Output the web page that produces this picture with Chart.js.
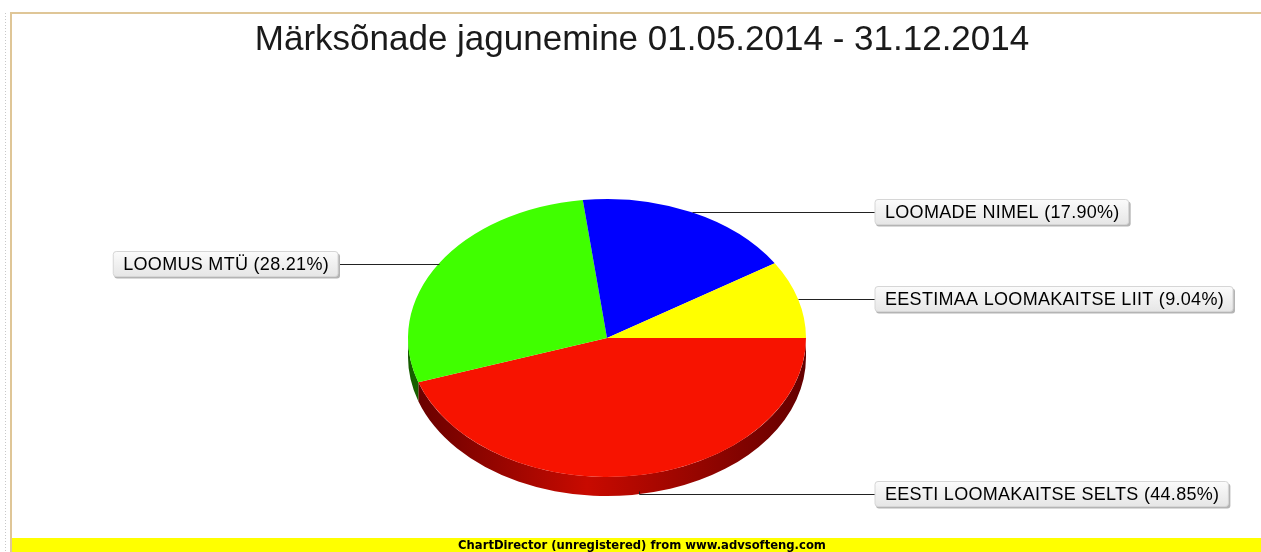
<!DOCTYPE html>
<html>
<head>
<meta charset="utf-8">
<script src="https://cdn.jsdelivr.net/npm/chart.js@4.4.1/dist/chart.umd.min.js"></script>
<style>
  html, body { margin: 0; padding: 0; background: #fff; }
  #wrap { width: 1261px; height: 552px; position: relative; }
</style>
</head>
<body>
<div id="wrap"><canvas id="chart" width="1261" height="552"></canvas></div>
<script>
// data, in the order drawn clockwise from 3 o'clock
const categories = ['EESTI LOOMAKAITSE SELTS', 'LOOMUS MTÜ', 'LOOMADE NIMEL', 'EESTIMAA LOOMAKAITSE LIIT'];
const shares = [44.85, 28.21, 17.90, 9.04];
const topColors = ['#f71300', '#40ff00', '#0000ff', '#ffff00'];
const sideDark = ['#640000', '#155c00', '#000070', '#707000'];
const sideLight = ['#c80a00', '#30c000', '#0000c0', '#c0c000'];

const titleText = 'Märksõnade jagunemine 01.05.2014 - 31.12.2014';
const footerText = 'ChartDirector (unregistered) from www.advsofteng.com';

const tilt = 139 / 199;
const depth = 19;
const rightColX = 875;
const leftColX = 338;

const ctx = document.getElementById('chart').getContext('2d');

// frame, title and footer bar
const framePlugin = {
    id: 'frame',
    beforeDraw(chart) {
        const c = chart.ctx;
        c.save();
        c.fillStyle = '#fff';
        c.fillRect(0, 0, chart.width, chart.height);
        // dotted page edge
        c.strokeStyle = '#c8c8c8';
        c.lineWidth = 1;
        c.setLineDash([1, 2]);
        c.beginPath();
        c.moveTo(5.5, 13);
        c.lineTo(5.5, chart.height);
        c.stroke();
        c.setLineDash([]);
        // tan border
        c.strokeStyle = '#dfc697';
        c.lineWidth = 2;
        c.beginPath();
        c.moveTo(11, chart.height);
        c.lineTo(11, 13);
        c.lineTo(chart.width, 13);
        c.stroke();
        // title
        c.fillStyle = '#1a1a1a';
        c.font = '35px "Liberation Sans", Arial, sans-serif';
        c.textAlign = 'center';
        c.textBaseline = 'middle';
        c.fillText(titleText, 642, 40);
        // footer bar
        c.fillStyle = '#ffff00';
        c.fillRect(12, 538, chart.width - 12, 14);
        c.fillStyle = '#000';
        c.font = 'bold 11.6px "DejaVu Sans", sans-serif';
        c.fillText(footerText, 642, 546);
        c.restore();
    }
};

// squash the pie into an ellipse and add the side walls
const pie3dPlugin = {
    id: 'pie3d',
    beforeDatasetsDraw(chart) {
        const c = chart.ctx;
        const arcs = chart.getDatasetMeta(0).data;
        const cx = arcs[0].x, cy = arcs[0].y, r = arcs[0].outerRadius;
        const ry = r * tilt;
        c.save();
        arcs.forEach((arc, i) => {
            const a = Math.max(arc.startAngle, 0);
            const b = Math.min(arc.endAngle, Math.PI);
            if (b <= a) return;
            const g = c.createLinearGradient(cx - r, 0, cx + r, 0);
            g.addColorStop(0, sideDark[i]);
            g.addColorStop(0.45, sideLight[i]);
            g.addColorStop(1, sideDark[i]);
            c.fillStyle = g;
            c.beginPath();
            c.ellipse(cx, cy, r, ry, 0, a, b);
            c.ellipse(cx, cy + depth, r, ry, 0, b, a, true);
            c.closePath();
            c.fill();
        });
        c.restore();
        c.save();
        c.translate(0, cy);
        c.scale(1, tilt);
        c.translate(0, -cy);
    },
    afterDatasetsDraw(chart) {
        chart.ctx.restore();
    }
};

// boxed side labels with leader lines
const labelPlugin = {
    id: 'boxLabels',
    afterDraw(chart) {
        const c = chart.ctx;
        const arcs = chart.getDatasetMeta(0).data;
        const cx = arcs[0].x, cy = arcs[0].y, r = arcs[0].outerRadius;
        const ry = r * tilt;
        c.save();
        c.font = '18px "Liberation Sans", Arial, sans-serif';
        c.letterSpacing = '0.3px';
        c.textBaseline = 'middle';
        arcs.forEach((arc, i) => {
            const m = (arc.startAngle + arc.endAngle) / 2;
            const ax = cx + r * Math.cos(m);
            let ay = cy + ry * Math.sin(m);
            const front = Math.sin(m) > 0.5;
            if (front) ay += depth - 3;
            const text = categories[i] + ' (' + shares[i].toFixed(2) + '%)';
            const tw = c.measureText(text).width;
            const bw = tw + 19, bh = 25;
            const right = Math.cos(m) >= 0;
            const ly = front ? ay + 3 : ay;
            const bx = right ? rightColX : leftColX - bw;
            const by = Math.round(ly) - 12.5;
            // leader line
            c.strokeStyle = '#222';
            c.lineWidth = 1;
            c.beginPath();
            c.moveTo(Math.round(ax) + 0.5, Math.round(ay) + 0.5);
            if (front) c.lineTo(Math.round(ax) + 0.5, Math.round(ly) + 0.5);
            c.lineTo(right ? bx : bx + bw, Math.round(ly) + 0.5);
            c.stroke();
            // box shadow
            c.fillStyle = '#b4b4b4';
            c.beginPath();
            c.roundRect(bx + 1, by + 2, bw + 1, bh, 3);
            c.fill();
            // box
            const g = c.createLinearGradient(0, by, 0, by + bh);
            g.addColorStop(0, '#fbfbfb');
            g.addColorStop(1, '#e6e6e6');
            c.fillStyle = g;
            c.beginPath();
            c.roundRect(bx, by, bw, bh, 3);
            c.fill();
            c.strokeStyle = '#d6d6d6';
            c.stroke();
            c.fillStyle = '#000';
            c.textAlign = 'left';
            c.fillText(text, bx + 10, by + bh / 2 + 1);
        });
        c.restore();
    }
};

const chart = new Chart(ctx, {
    type: 'pie',
    data: {
        labels: categories,
        datasets: [{
            data: shares,
            backgroundColor: topColors,
            borderWidth: 0
        }]
    },
    options: {
        responsive: false,
        animation: false,
        rotation: 90,
        layout: {
            padding: { left: 408, right: 455, top: 139, bottom: 15 }
        },
        plugins: {
            legend: { display: false },
            title: { display: false },
            tooltip: { enabled: false }
        }
    },
    plugins: [framePlugin, pie3dPlugin, labelPlugin]
});
</script>
</body>
</html>
